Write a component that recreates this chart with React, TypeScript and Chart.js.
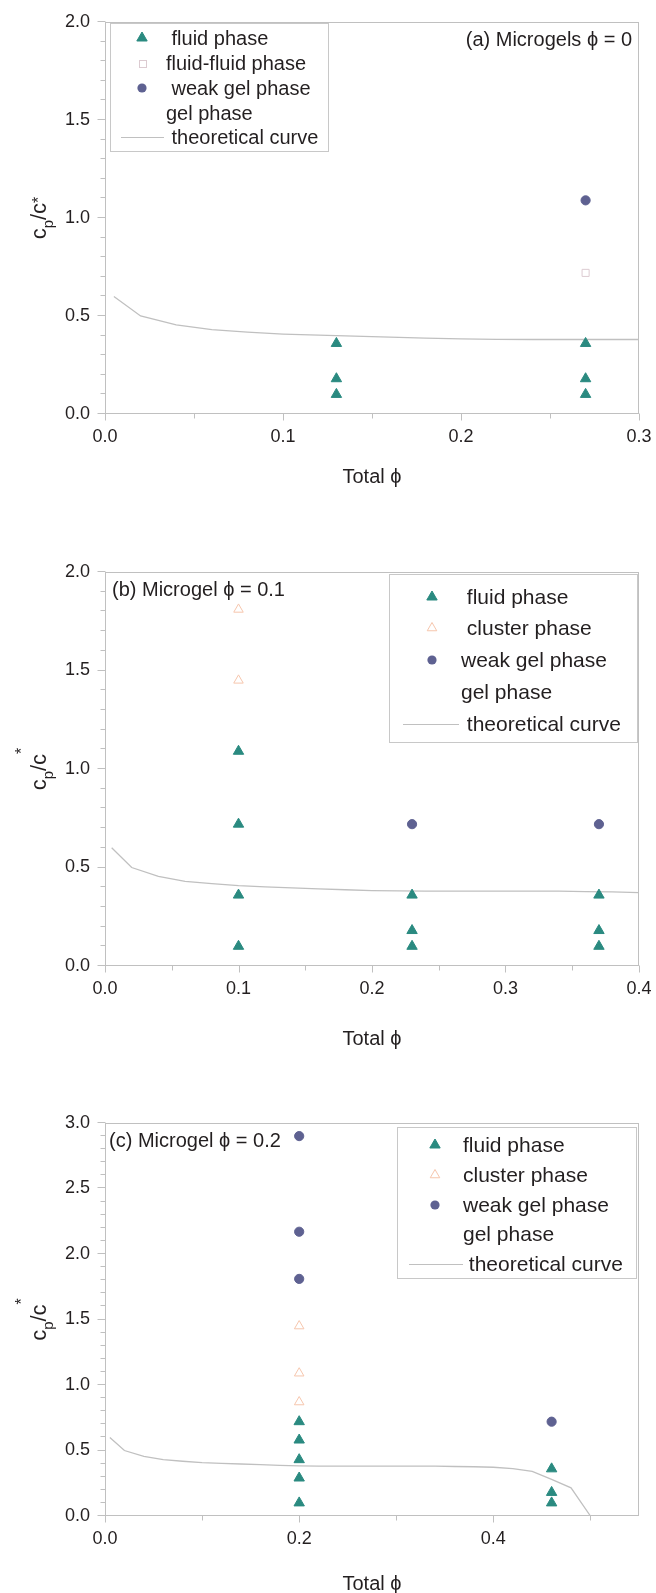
import React, { useEffect, useRef } from 'react';
import { Chart, registerables } from 'chart.js';

Chart.register(...registerables);

// ---------------- DATA ----------------
// theoretical curve (shared by all panels, clipped by each x range)
const theoryPhi = [0.005, 0.02, 0.04, 0.06, 0.08, 0.1, 0.12, 0.14, 0.16, 0.18, 0.2, 0.22, 0.24, 0.26, 0.28, 0.3, 0.32, 0.34, 0.36, 0.38, 0.4, 0.42, 0.44, 0.46, 0.48, 0.5, 0.55];
const theoryCp = [0.6, 0.5, 0.455, 0.43, 0.418, 0.408, 0.402, 0.397, 0.392, 0.387, 0.383, 0.381, 0.38, 0.38, 0.38, 0.38, 0.38, 0.38, 0.378, 0.376, 0.372, 0.362, 0.34, 0.28, 0.215, 0, 0];

// panel (a) Microgels phi = 0
const aFluidPhi = [0.13, 0.13, 0.13, 0.27, 0.27, 0.27];
const aFluidCp = [0.36, 0.18, 0.1, 0.36, 0.18, 0.1];
const aFluidFluidPhi = [0.27];
const aFluidFluidCp = [0.72];
const aWeakGelPhi = [0.27];
const aWeakGelCp = [1.09];

// panel (b) Microgel phi = 0.1
const bFluidPhi = [0.1, 0.1, 0.1, 0.1, 0.23, 0.23, 0.23, 0.37, 0.37, 0.37];
const bFluidCp = [1.09, 0.72, 0.36, 0.1, 0.36, 0.18, 0.1, 0.36, 0.18, 0.1];
const bClusterPhi = [0.1, 0.1];
const bClusterCp = [1.81, 1.45];
const bWeakGelPhi = [0.23, 0.37];
const bWeakGelCp = [0.72, 0.72];

// panel (c) Microgel phi = 0.2
const cFluidPhi = [0.2, 0.2, 0.2, 0.2, 0.2, 0.46, 0.46, 0.46];
const cFluidCp = [0.72, 0.58, 0.43, 0.29, 0.1, 0.36, 0.18, 0.1];
const cClusterPhi = [0.2, 0.2, 0.2];
const cClusterCp = [1.45, 1.09, 0.87];
const cWeakGelPhi = [0.2, 0.2, 0.2, 0.46];
const cWeakGelCp = [2.9, 2.17, 1.81, 0.72];

// ticks
const aPhiTicks = [0, 0.1, 0.2, 0.3];
const aPhiMinorTicks = [0.05, 0.15, 0.25];
const bPhiTicks = [0, 0.1, 0.2, 0.3, 0.4];
const bPhiMinorTicks = [0.05, 0.15, 0.25, 0.35];
const cPhiTicks = [0, 0.2, 0.4];
const cPhiMinorTicks = [0.1, 0.3, 0.5];
const abCpTicks = [0, 0.5, 1.0, 1.5, 2.0];
const abCpMinorTicks = [0.1, 0.2, 0.3, 0.4, 0.6, 0.7, 0.8, 0.9, 1.1, 1.2, 1.3, 1.4, 1.6, 1.7, 1.8, 1.9];
const cCpTicks = [0, 0.5, 1.0, 1.5, 2.0, 2.5, 3.0];
const cCpMinorTicks = [0.1, 0.2, 0.3, 0.4, 0.6, 0.7, 0.8, 0.9, 1.1, 1.2, 1.3, 1.4, 1.6, 1.7, 1.8, 1.9, 2.1, 2.2, 2.3, 2.4, 2.6, 2.7, 2.8, 2.9];

// ---------------- STYLE ----------------
const FONT = '"Liberation Sans", Arial, Helvetica, sans-serif';
const TEXT = '#231f20';
const AXIS = '#c0c0c0';
const TEAL = '#2a8a80';
const SLATE = '#5e6191';
const PEACH = '#f6c6ad';
const FFPINK = '#dccbd1';
const CURVE = '#c0c0c0';
const PLOT_LEFT = 105;
const PLOT_RIGHT = 639;
const W = 656;

type Kind = 'fluid' | 'cluster' | 'ff' | 'weak' | 'gel' | 'theory';
type Series = { kind: Kind; label: string; phi: number[]; cp: number[] };
type Panel = {
  top: number; height: number; plotTop: number; plotBottom: number;
  xMax: number; yMax: number;
  xMajor: number[]; xMinor: number[]; yMajor: number[]; yMinor: number[];
  series: Series[];
  legendBox: number[]; legendRows: number[]; legendMarkerX: number; legendTextX: number; legendLine: number[]; legendFont: number;
  note: string; noteX: number; noteY: number; noteAlign: CanvasTextAlign;
  xTitleY: number; starRaise: number;
};

const panels: Panel[] = [
  {
    top: 0, height: 520, plotTop: 22, plotBottom: 414, xMax: 0.3, yMax: 2,
    xMajor: aPhiTicks, xMinor: aPhiMinorTicks, yMajor: abCpTicks, yMinor: abCpMinorTicks,
    series: [
      { kind: 'fluid', label: ' fluid phase', phi: aFluidPhi, cp: aFluidCp },
      { kind: 'ff', label: 'fluid-fluid phase', phi: aFluidFluidPhi, cp: aFluidFluidCp },
      { kind: 'weak', label: ' weak gel phase', phi: aWeakGelPhi, cp: aWeakGelCp },
      { kind: 'gel', label: 'gel phase', phi: [], cp: [] },
      { kind: 'theory', label: ' theoretical curve', phi: theoryPhi, cp: theoryCp },
    ],
    legendBox: [110, 23, 328, 151], legendRows: [38, 63, 88, 113, 137], legendMarkerX: 142, legendTextX: 166,
    legendLine: [121, 164], legendFont: 20,
    note: '(a) Microgels \u03d5 = 0', noteX: 632, noteY: 40, noteAlign: 'right',
    xTitleY: 477, starRaise: 2,
  },
  {
    top: 520, height: 550, plotTop: 52, plotBottom: 446, xMax: 0.4, yMax: 2,
    xMajor: bPhiTicks, xMinor: bPhiMinorTicks, yMajor: abCpTicks, yMinor: abCpMinorTicks,
    series: [
      { kind: 'fluid', label: ' fluid phase', phi: bFluidPhi, cp: bFluidCp },
      { kind: 'cluster', label: ' cluster phase', phi: bClusterPhi, cp: bClusterCp },
      { kind: 'weak', label: 'weak gel phase', phi: bWeakGelPhi, cp: bWeakGelCp },
      { kind: 'gel', label: 'gel phase', phi: [], cp: [] },
      { kind: 'theory', label: ' theoretical curve', phi: theoryPhi, cp: theoryCp },
    ],
    legendBox: [389, 54, 637, 222], legendRows: [77, 108, 140, 172, 204], legendMarkerX: 432, legendTextX: 461,
    legendLine: [403, 459], legendFont: 21,
    note: '(b) Microgel \u03d5 = 0.1', noteX: 112, noteY: 70, noteAlign: 'left',
    xTitleY: 519, starRaise: 19,
  },
  {
    top: 1070, height: 523, plotTop: 53, plotBottom: 446, xMax: 0.55, yMax: 3,
    xMajor: cPhiTicks, xMinor: cPhiMinorTicks, yMajor: cCpTicks, yMinor: cCpMinorTicks,
    series: [
      { kind: 'fluid', label: 'fluid phase', phi: cFluidPhi, cp: cFluidCp },
      { kind: 'cluster', label: 'cluster phase', phi: cClusterPhi, cp: cClusterCp },
      { kind: 'weak', label: 'weak gel phase', phi: cWeakGelPhi, cp: cWeakGelCp },
      { kind: 'gel', label: 'gel phase', phi: [], cp: [] },
      { kind: 'theory', label: ' theoretical curve', phi: theoryPhi, cp: theoryCp },
    ],
    legendBox: [397, 57, 636, 208], legendRows: [75, 105, 135, 164, 194], legendMarkerX: 435, legendTextX: 463,
    legendLine: [409, 463], legendFont: 21,
    note: '(c) Microgel \u03d5 = 0.2', noteX: 109, noteY: 71, noteAlign: 'left',
    xTitleY: 514, starRaise: 19,
  },
];

function pointStyleFor(kind: Kind) {
  switch (kind) {
    case 'fluid':
      return { pointStyle: 'triangle', pointRadius: 6, pointBackgroundColor: TEAL, pointBorderColor: TEAL, pointBorderWidth: 1 };
    case 'cluster':
      return { pointStyle: 'triangle', pointRadius: 5.5, pointBackgroundColor: 'rgba(255,255,255,0)', pointBorderColor: PEACH, pointBorderWidth: 1 };
    case 'ff':
      return { pointStyle: 'rect', pointRadius: 5, pointBackgroundColor: 'rgba(255,255,255,0)', pointBorderColor: FFPINK, pointBorderWidth: 1 };
    case 'weak':
      return { pointStyle: 'circle', pointRadius: 4.6, pointBackgroundColor: SLATE, pointBorderColor: SLATE, pointBorderWidth: 1 };
    default:
      return { pointRadius: 0 };
  }
}

function drawMarker(ctx: CanvasRenderingContext2D, kind: Kind, x: number, y: number) {
  ctx.save();
  ctx.lineWidth = 1;
  if (kind === 'fluid' || kind === 'cluster') {
    const r = kind === 'fluid' ? 6 : 5.5;
    const s = Math.sin((2 * Math.PI) / 3) * r;
    ctx.beginPath();
    ctx.moveTo(x, y - r);
    ctx.lineTo(x + s, y + r / 2);
    ctx.lineTo(x - s, y + r / 2);
    ctx.closePath();
    if (kind === 'fluid') {
      ctx.fillStyle = TEAL; ctx.fill(); ctx.strokeStyle = TEAL; ctx.stroke();
    } else {
      ctx.strokeStyle = PEACH; ctx.stroke();
    }
  } else if (kind === 'ff') {
    const h = 3.5;
    ctx.strokeStyle = FFPINK;
    ctx.strokeRect(Math.round(x - h) + 0.5, Math.round(y - h) + 0.5, 2 * h, 2 * h);
  } else if (kind === 'weak') {
    ctx.beginPath();
    ctx.arc(x, y, 4.6, 0, Math.PI * 2);
    ctx.fillStyle = SLATE; ctx.fill();
  }
  ctx.restore();
}

function drawYTitle(ctx: CanvasRenderingContext2D, cx: number, cy: number, starRaise: number) {
  const parts = [
    { t: 'c', size: 22, dv: 0 },
    { t: 'p', size: 15, dv: 7 },
    { t: '/c', size: 22, dv: 0 },
    { t: '*', size: 16, dv: -starRaise },
  ];
  ctx.save();
  ctx.translate(cx, cy);
  ctx.rotate(-Math.PI / 2);
  ctx.fillStyle = TEXT;
  ctx.textAlign = 'left';
  ctx.textBaseline = 'alphabetic';
  let total = 0;
  const widths = parts.map((p) => {
    ctx.font = `${p.size}px ${FONT}`;
    const w = ctx.measureText(p.t).width;
    total += w;
    return w;
  });
  let u = -total / 2;
  parts.forEach((p, i) => {
    ctx.font = `${p.size}px ${FONT}`;
    ctx.fillText(p.t, u, p.dv);
    u += widths[i];
  });
  ctx.restore();
}

function makePlugin(p: Panel) {
  return {
    id: 'decor',
    beforeDatasetsDraw(chart: any) {
      const { ctx, chartArea: a, scales } = chart;
      ctx.save();
      ctx.strokeStyle = AXIS;
      ctx.lineWidth = 1;
      const l = Math.round(a.left) + 0.5;
      const t = Math.round(a.top) + 0.5;
      const r = Math.round(a.right) - 0.5;
      const b = Math.round(a.bottom) - 0.5;
      ctx.strokeRect(l, t, r - l, b - t);
      ctx.beginPath();
      p.yMajor.forEach((v) => {
        const y = Math.round(scales.y.getPixelForValue(v)) - 0.5;
        ctx.moveTo(l - 8, y); ctx.lineTo(l, y);
      });
      p.yMinor.forEach((v) => {
        const y = Math.round(scales.y.getPixelForValue(v)) - 0.5;
        ctx.moveTo(l - 5, y); ctx.lineTo(l, y);
      });
      p.xMajor.forEach((v) => {
        const x = Math.round(scales.x.getPixelForValue(v)) + 0.5;
        ctx.moveTo(x, b); ctx.lineTo(x, b + 7);
      });
      p.xMinor.forEach((v) => {
        const x = Math.round(scales.x.getPixelForValue(v)) + 0.5;
        ctx.moveTo(x, b); ctx.lineTo(x, b + 5);
      });
      ctx.stroke();
      ctx.restore();
    },
    afterDraw(chart: any) {
      const { ctx, chartArea: a } = chart;
      ctx.save();
      // legend
      const [x1, y1, x2, y2] = p.legendBox;
      ctx.fillStyle = '#ffffff';
      ctx.fillRect(x1, y1, x2 - x1, y2 - y1);
      ctx.strokeStyle = '#c8c8c8';
      ctx.lineWidth = 1;
      ctx.strokeRect(x1 + 0.5, y1 + 0.5, x2 - x1, y2 - y1);
      ctx.font = `${p.legendFont}px ${FONT}`;
      ctx.textBaseline = 'middle';
      ctx.textAlign = 'left';
      p.series.forEach((s, i) => {
        const y = p.legendRows[i];
        if (s.kind === 'theory') {
          ctx.strokeStyle = CURVE;
          ctx.lineWidth = 1.2;
          ctx.beginPath();
          ctx.moveTo(p.legendLine[0], Math.round(y) + 0.5);
          ctx.lineTo(p.legendLine[1], Math.round(y) + 0.5);
          ctx.stroke();
        } else {
          drawMarker(ctx, s.kind, p.legendMarkerX, y);
        }
        ctx.fillStyle = TEXT;
        ctx.fillText(s.label, p.legendTextX, y + 1);
      });
      // annotation
      ctx.font = `20px ${FONT}`;
      ctx.textAlign = p.noteAlign;
      ctx.textBaseline = 'middle';
      ctx.fillStyle = TEXT;
      ctx.fillText(p.note, p.noteX, p.noteY);
      // x title
      ctx.textAlign = 'center';
      ctx.font = `20px ${FONT}`;
      ctx.fillText('Total \u03d5', (a.left + a.right) / 2, p.xTitleY);
      ctx.restore();
      // y title
      drawYTitle(ctx, 46, (a.top + a.bottom) / 2, p.starRaise);
    },
  };
}

function buildConfig(p: Panel): any {
  const datasets = p.series.map((s, i) => {
    const data = s.phi.map((x, k) => ({ x, y: s.cp[k] }));
    if (s.kind === 'theory') {
      return {
        label: s.label.trim(), data, showLine: true, borderColor: CURVE, borderWidth: 1.3,
        pointRadius: 0, fill: false, tension: 0, order: 10,
      };
    }
    return { label: s.label.trim(), data, showLine: false, order: i, ...pointStyleFor(s.kind) };
  });
  const tickFont = { family: FONT, size: 18 };
  return {
    type: 'scatter',
    data: { datasets },
    options: {
      responsive: false,
      animation: false,
      devicePixelRatio: 1,
      events: [],
      layout: { padding: { left: 0, right: W - PLOT_RIGHT, top: p.plotTop, bottom: 0 } },
      scales: {
        x: {
          type: 'linear', min: 0, max: p.xMax,
          grid: { display: false, drawTicks: true, tickLength: 8 },
          border: { display: false },
          ticks: { color: TEXT, font: tickFont, padding: 4, autoSkip: false, maxRotation: 0, callback: (v: any) => Number(v).toFixed(1) },
          afterBuildTicks: (s: any) => { s.ticks = p.xMajor.map((v) => ({ value: v })); },
          afterFit: (s: any) => { s.height = p.height - p.plotBottom; },
        },
        y: {
          type: 'linear', min: 0, max: p.yMax,
          grid: { display: false, drawTicks: true, tickLength: 8 },
          border: { display: false },
          ticks: { color: TEXT, font: tickFont, padding: 7, autoSkip: false, callback: (v: any) => Number(v).toFixed(1) },
          afterBuildTicks: (s: any) => { s.ticks = p.yMajor.map((v) => ({ value: v })); },
          afterFit: (s: any) => { s.width = PLOT_LEFT; },
        },
      },
      plugins: { legend: { display: false }, tooltip: { enabled: false }, title: { display: false } },
    },
    plugins: [makePlugin(p)],
  };
}

function PanelChart({ panel }: { panel: Panel }) {
  const ref = useRef<HTMLCanvasElement>(null);
  useEffect(() => {
    const canvas = ref.current;
    if (!canvas) return;
    const chart = new Chart(canvas, buildConfig(panel));
    return () => chart.destroy();
  }, [panel]);
  return (
    <canvas
      ref={ref}
      width={W}
      height={panel.height}
      style={{ position: 'absolute', left: 0, top: panel.top, width: W, height: panel.height, display: 'block' }}
    />
  );
}

export default function App() {
  return (
    <div style={{ position: 'absolute', left: 0, top: 0, width: W, height: 1593, background: '#ffffff', overflow: 'hidden' }}>
      {panels.map((p, i) => (
        <PanelChart key={i} panel={p} />
      ))}
    </div>
  );
}
